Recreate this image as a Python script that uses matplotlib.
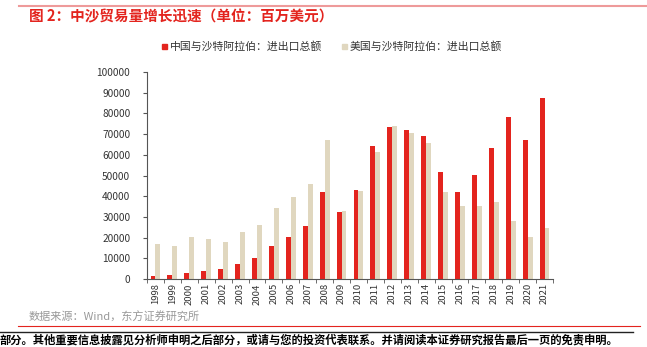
import numpy as np
import matplotlib.pyplot as plt
from matplotlib.patches import Patch
from matplotlib.lines import Line2D

plt.rcParams['font.family'] = ['Noto Sans CJK SC', 'DejaVu Sans']

years = [str(y) for y in range(1998, 2022)]
china_saudi = [1500, 1800, 3000, 4000, 5000, 7200, 10300, 16100, 20100, 25400, 41800, 32400,
               43100, 64400, 73400, 72100, 69000, 51600, 42100, 50200, 63200, 78200, 67300, 87400]
us_saudi = [16700, 16100, 20400, 19200, 17900, 22600, 26100, 34100, 39400, 45900, 67300, 32900,
            42700, 61500, 73700, 70600, 65800, 41900, 35200, 35500, 37400, 27900, 20300, 24800]

red = '#E3241E'
beige = '#E0D7BF'

W, H = 647, 347
fig = plt.figure(figsize=(W / 100, H / 100), dpi=100)

ax = fig.add_axes([147 / W, 1 - 279 / H, 406 / W, 207 / H])
x = np.arange(len(years))
bw = 0.29
ax.bar(x - bw / 2, china_saudi, bw, color=red, label='中国与沙特阿拉伯：进出口总额')
ax.bar(x + bw / 2, us_saudi, bw, color=beige, label='美国与沙特阿拉伯：进出口总额')

ax.set_xlim(-0.5, len(years) - 0.5)
ax.set_ylim(0, 100000)
ax.set_yticks(range(0, 100001, 10000))
ax.set_xticks(x)
ax.set_xticklabels(years, rotation=90, fontsize=6.8, color='#333333')
ax.set_xticks(np.arange(-0.5, len(years), 1), minor=True)
ax.tick_params(axis='x', which='major', length=0, pad=3)
ax.tick_params(axis='x', which='minor', length=3, color='#555555', direction='out')
ax.tick_params(axis='y', labelsize=7.3, colors='#333333', length=3, direction='out', pad=9)
ax.tick_params(axis='y', color='#555555')
for s in ['top', 'right']:
    ax.spines[s].set_visible(False)
for s in ['left', 'bottom']:
    ax.spines[s].set_color('#555555')
    ax.spines[s].set_linewidth(0.8)

handles = [Patch(color=red), Patch(color=beige)]
fig.legend(handles, ['中国与沙特阿拉伯：进出口总额', '美国与沙特阿拉伯：进出口总额'],
           loc='center', bbox_to_anchor=(332 / W, 1 - 47 / H), ncol=2, frameon=False,
           fontsize=7.8, handlelength=0.45, handleheight=0.45, handletextpad=0.3,
           columnspacing=1.8, labelcolor='#333333')

# header / footer
fig.add_artist(Line2D([19 / W, 1], [1 - 6 / H] * 2, color='#EE9A9A', lw=1.5))
fig.text(29 / W, 1 - 16 / H, '图 2：中沙贸易量增长迅速（单位：百万美元）', color='#E3241E',
         fontsize=10.5, fontweight='bold', va='center', ha='left')
fig.text(29 / W, 1 - 317 / H, '数据来源：Wind，东方证券研究所', color='#999999',
         fontsize=8.0, va='center', ha='left')
fig.add_artist(Line2D([18 / W, 640 / W], [1 - 326 / H] * 2, color='#E3241E', lw=0.8))
fig.add_artist(Line2D([0, 633 / W], [1 - 332 / H] * 2, color='#222222', lw=1.0))
fig.text(0, 1 - 340 / H, '部分。其他重要信息披露见分析师申明之后部分，或请与您的投资代表联系。并请阅读本证券研究报告最后一页的免责申明。',
         color='black', fontsize=8.15, fontweight='bold', va='center', ha='left')

fig.savefig('out.png', dpi=100)
